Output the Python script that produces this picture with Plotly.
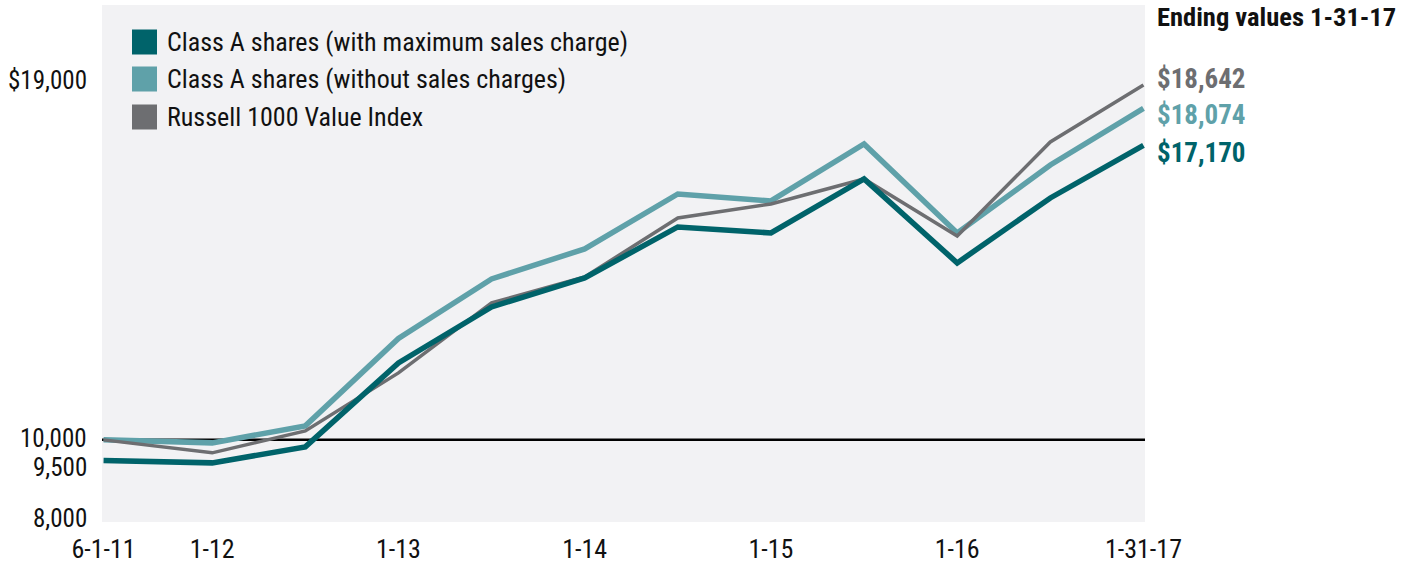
import plotly.graph_objects as go

# x positions in months since June 2011
months = [0, 7, 13, 19, 25, 31, 37, 43, 49, 55, 61, 67]
tick_vals = [0, 7, 19, 31, 43, 55, 67]
tick_text = ["6-1-11", "1-12", "1-13", "1-14", "1-15", "1-16", "1-31-17"]

names = ["Class A shares (with maximum sales charge)",
         "Class A shares (without sales charges)",
         "Russell 1000 Value Index"]
class_a_max = [9500, 9440, 9830, 11874, 13238, 13944, 15185, 15039, 16353, 14309, 15891, 17170]
class_a_no = [10000, 9927, 10341, 12470, 13919, 14650, 15988, 15818, 17205, 15039, 16694, 18074]
russell = [10000, 9684, 10219, 11631, 13335, 13968, 15404, 15745, 16353, 14966, 17254, 18642]
y_ticks = [8000, 9500, 10000, 19000]
y_text = ["8,000", "9,500", "10,000", "$19,000"]
y_label_shift = [4, -7, 1, -10]

colors = ["#00636A", "#5FA1A9", "#6D6E71"]
widths = [5.5, 5.5, 3.5]
series = [class_a_max, class_a_no, russell]

FONT = "Liberation Sans Narrow, Roboto Condensed, Arial Narrow, Roboto, sans-serif"

fig = go.Figure()
# draw order: light teal, grey, dark teal on top
for i in [1, 2, 0]:
    fig.add_trace(go.Scatter(x=months, y=series[i], mode="lines", name=names[i],
                             line=dict(color=colors[i], width=widths[i]),
                             showlegend=False))

fig.update_layout(
    width=1406, height=571,
    margin=dict(l=102, r=261, t=5, b=49, autoexpand=False),
    paper_bgcolor="white", plot_bgcolor="#F2F2F4",
    font=dict(family=FONT, size=26, color="#111111"),
    xaxis=dict(range=[-0.1, 67.1], tickvals=tick_vals, ticktext=tick_text,
               showgrid=False, zeroline=False, showline=False, ticks="",
               automargin=False, ticklabelstandoff=9, tickfont=dict(size=26)),
    yaxis=dict(range=[8000, 20590], showticklabels=False,
               showgrid=False, zeroline=False, showline=False, ticks="",
               automargin=False),
    showlegend=False,
)

# y labels as annotations at their values
for v, t, s in zip(y_ticks, y_text, y_label_shift):
    fig.add_annotation(xref="paper", yref="y", x=0, y=v, text=t, showarrow=False,
                       xanchor="right", yanchor="middle", xshift=-13, yshift=s,
                       font=dict(size=25, color="#111111"))

# 10,000 baseline
fig.add_shape(type="line", xref="paper", yref="y", x0=0, x1=1, y0=10000, y1=10000,
              line=dict(color="black", width=2.5), layer="below")

# legend drawn manually (squares)
W = 1043.0
H = 517.0
def px(x):
    return (x - 102) / W
def py(y):
    return (522 - y) / H

legend_rows = [42, 79, 117]
for i, yc in enumerate(legend_rows):
    fig.add_shape(type="rect", xref="paper", yref="paper",
                  x0=px(132), x1=px(157), y0=py(yc + 12.5), y1=py(yc - 12.5),
                  fillcolor=colors[i], line=dict(width=0))
    fig.add_annotation(xref="paper", yref="paper", x=px(165), y=py(yc),
                       text=names[i], showarrow=False, xanchor="left", yanchor="middle",
                       font=dict(size=26, color="#111111"))

# Ending values header
fig.add_annotation(xref="paper", yref="paper", x=px(1155), y=py(17),
                   text="<b>Ending values 1-31-17</b>", showarrow=False,
                   xanchor="left", yanchor="middle", font=dict(size=26.5, color="#111111"))

shifts = [-8, -7, 6]
for i in [2, 1, 0]:
    v = series[i][-1]
    fig.add_annotation(xref="paper", yref="y", x=px(1155), y=v,
                       text="<b>$" + f"{v:,}" + "</b>", showarrow=False,
                       xanchor="left", yanchor="middle", yshift=shifts[i],
                       font=dict(size=27, color=colors[i]))

fig.write_html("out.html", config={"displayModeBar": False},
               post_script="document.body.style.margin='0px';")
